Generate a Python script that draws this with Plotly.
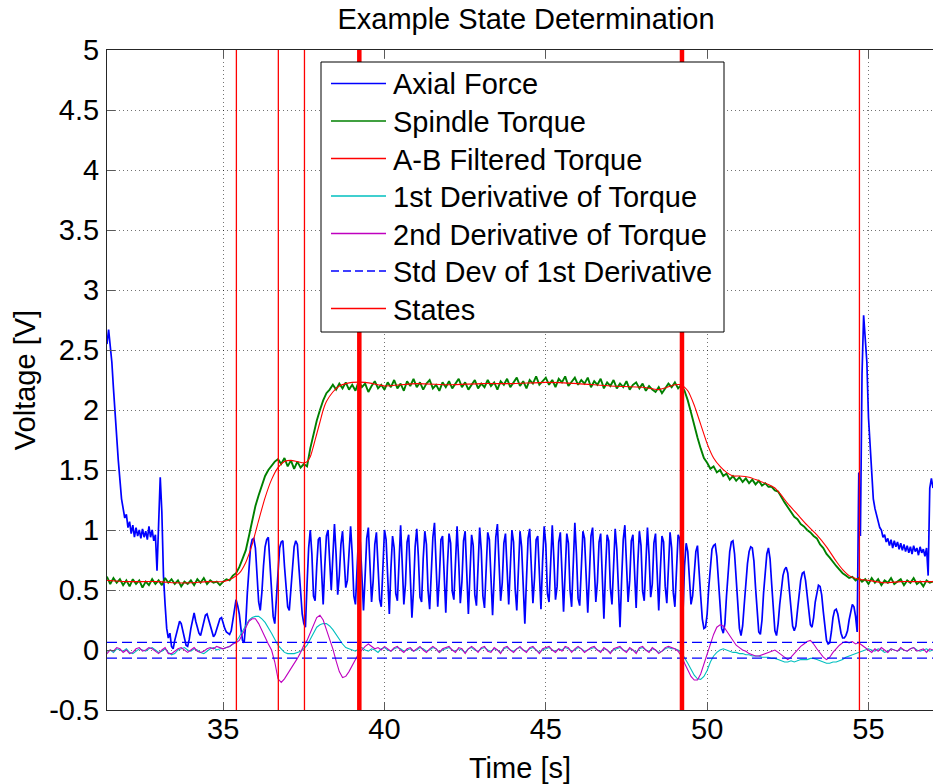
import numpy as np
import plotly.graph_objects as go

# ---------------- data ----------------
T0 = 31.0          # first sample time [s]
FORCE_DT = 0.05    # sample step of the axial-force record [s]
TORQUE_DT = 0.1    # sample step of torque / derivative records [s]

# Axial force [V], one row per second (31.00 ... 56.95), then 57.00
axial_force = [
    2.30, 2.40, 2.45, 2.50, 2.55, 2.50, 2.60, 2.58, 2.55, 2.67, 2.56, 2.40, 2.18, 1.95, 1.75, 1.58, 1.42, 1.26, 1.18, 1.10,
    1.13, 1.02, 1.07, 0.97, 1.04, 0.94, 1.02, 0.95, 1.00, 0.93, 1.01, 0.94, 0.99, 0.92, 1.03, 0.94, 1.00, 0.91, 0.96, 0.66,
    1.05, 1.44, 1.15, 0.62, 0.38, 0.18, 0.10, 0.14, 0.03, 0.01, 0.08, 0.14, 0.20, 0.24, 0.22, 0.16, 0.09, 0.04, 0.03, 0.09,
    0.18, 0.26, 0.31, 0.24, 0.18, 0.14, 0.12, 0.17, 0.23, 0.29, 0.30, 0.25, 0.20, 0.15, 0.11, 0.13, 0.18, 0.22, 0.26, 0.27,
    0.22, 0.18, 0.15, 0.14, 0.13, 0.16, 0.24, 0.34, 0.42, 0.37, 0.30, 0.18, 0.08, 0.06, 0.22, 0.48, 0.72, 0.86, 0.92, 0.93,
    0.85, 0.62, 0.40, 0.33, 0.48, 0.70, 0.86, 0.92, 0.94, 0.72, 0.45, 0.28, 0.22, 0.45, 0.70, 0.85, 0.90, 0.91, 0.70, 0.48,
    0.36, 0.33, 0.50, 0.72, 0.86, 0.91, 0.88, 0.68, 0.45, 0.30, 0.22, 0.19, 0.55, 0.85, 1.00, 0.80, 0.45, 0.41, 0.70, 0.92,
    0.94, 0.62, 0.38, 0.70, 0.95, 1.00, 0.70, 0.50, 0.78, 1.05, 0.80, 0.46, 0.62, 0.88, 0.99, 0.75, 0.52, 0.58, 0.82, 1.03,
    0.80, 0.45, 0.38, 0.72, 0.97, 0.90, 0.55, 0.33, 0.62, 0.93, 1.02, 0.66, 0.40, 0.58, 0.88, 0.98, 0.70, 0.42, 0.36, 0.75,
    1.00, 0.92, 0.52, 0.30, 0.68, 0.95, 0.85, 0.47, 0.41, 0.80, 1.04, 0.72, 0.38, 0.55, 0.90, 0.96, 0.60, 0.27, 0.50, 0.86,
    1.01, 0.78, 0.44, 0.40, 0.76, 0.99, 0.88, 0.50, 0.34, 0.66, 0.94, 1.06, 0.68, 0.36, 0.60, 0.92, 0.95, 0.58, 0.31, 0.70,
    0.97, 0.89, 0.49, 0.42, 0.81, 1.03, 0.74, 0.39, 0.57, 0.91, 0.99, 0.63, 0.30, 0.64, 0.96, 0.87, 0.46, 0.37, 0.78, 1.02,
    0.83, 0.45, 0.35, 0.71, 0.98, 0.92, 0.54, 0.29, 0.61, 0.94, 1.05, 0.70, 0.41, 0.56, 0.89, 0.97, 0.62, 0.38, 0.69, 1.00,
    0.90, 0.51, 0.33, 0.73, 0.99, 0.86, 0.48, 0.22, 0.58, 0.93, 1.01, 0.67, 0.39, 0.60, 0.92, 0.95, 0.57, 0.34, 0.74, 1.03,
    0.88, 0.47, 0.40, 0.79, 1.04, 0.76, 0.42, 0.53, 0.90, 0.98, 0.61, 0.32, 0.65, 0.97, 0.89, 0.50, 0.36, 0.77, 1.06, 0.80,
    0.43, 0.37, 0.74, 0.99, 0.93, 0.55, 0.31, 0.62, 0.95, 1.02, 0.69, 0.40, 0.57, 0.90, 0.97, 0.64, 0.26, 0.66, 0.96, 0.91,
    0.52, 0.38, 0.75, 1.01, 0.84, 0.46, 0.19, 0.59, 0.92, 1.04, 0.71, 0.40, 0.58, 0.91, 0.96, 0.60, 0.35, 0.72, 0.99, 0.87,
    0.49, 0.41, 0.78, 1.02, 0.79, 0.44, 0.55, 0.89, 0.97, 0.62, 0.33, 0.67, 0.95, 0.90, 0.53, 0.39, 0.76, 0.98, 0.85, 0.48,
    0.36, 0.72, 0.96, 0.93, 0.55, 0.30, 0.70, 0.89, 0.82, 0.55, 0.38, 0.45, 0.65, 0.82, 0.87, 0.70, 0.45, 0.26, 0.18, 0.19,
    0.30, 0.52, 0.72, 0.84, 0.87, 0.88, 0.78, 0.55, 0.32, 0.18, 0.14, 0.22, 0.45, 0.68, 0.82, 0.90, 0.91, 0.80, 0.58, 0.35,
    0.18, 0.12, 0.20, 0.38, 0.58, 0.72, 0.82, 0.86, 0.85, 0.74, 0.52, 0.30, 0.15, 0.13, 0.25, 0.48, 0.68, 0.80, 0.85, 0.76,
    0.55, 0.32, 0.16, 0.12, 0.22, 0.38, 0.52, 0.62, 0.67, 0.69, 0.64, 0.50, 0.32, 0.20, 0.16, 0.20, 0.33, 0.48, 0.58, 0.64,
    0.65, 0.58, 0.45, 0.30, 0.21, 0.19, 0.27, 0.40, 0.49, 0.54, 0.53, 0.46, 0.32, 0.17, 0.08, 0.05, 0.06, 0.15, 0.27, 0.33,
    0.34, 0.30, 0.22, 0.14, 0.10, 0.10, 0.12, 0.16, 0.25, 0.33, 0.38, 0.36, 0.28, 0.15, 1.48, 0.95, 2.30, 2.79, 2.60, 2.40,
    1.94, 1.74, 1.52, 1.26, 1.18, 1.12, 1.08, 1.02, 1.00, 0.94, 0.96, 0.90, 0.93, 0.87, 0.92, 0.85, 0.91, 0.86, 0.90, 0.84,
    0.89, 0.83, 0.88, 0.82, 0.87, 0.81, 0.86, 0.80, 0.87, 0.82, 0.85, 0.79, 0.86, 0.81, 0.84, 0.78, 0.85, 0.62, 1.35, 1.43,
    1.35,
]

# Spindle torque [V], one row per second (31.0 ... 56.9), then 57.0
spindle_torque = [
    0.60, 0.56, 0.62, 0.57, 0.61, 0.55, 0.60, 0.56, 0.59, 0.54,
    0.58, 0.53, 0.59, 0.55, 0.58, 0.52, 0.57, 0.54, 0.59, 0.55,
    0.58, 0.54, 0.60, 0.56, 0.59, 0.55, 0.58, 0.53, 0.57, 0.55,
    0.58, 0.54, 0.59, 0.56, 0.60, 0.55, 0.58, 0.56, 0.57, 0.54,
    0.57, 0.59, 0.58, 0.62, 0.64, 0.69, 0.76, 0.83, 0.95, 1.08,
    1.20, 1.29, 1.38, 1.45, 1.50, 1.54, 1.57, 1.59, 1.55, 1.60,
    1.53, 1.58, 1.51, 1.57, 1.52, 1.55, 1.53, 1.68, 1.80, 1.91,
    2.00, 2.08, 2.14, 2.17, 2.21, 2.17, 2.22, 2.18, 2.23, 2.17,
    2.21, 2.16, 2.24, 2.19, 2.22, 2.15, 2.20, 2.24, 2.18, 2.21,
    2.17, 2.23, 2.19, 2.25, 2.18, 2.22, 2.16, 2.24, 2.20, 2.26,
    2.19, 2.23, 2.17, 2.22, 2.25, 2.18, 2.21, 2.16, 2.23, 2.19,
    2.24, 2.18, 2.22, 2.26, 2.19, 2.23, 2.17, 2.21, 2.25, 2.18,
    2.22, 2.19, 2.25, 2.20, 2.23, 2.17, 2.24, 2.21, 2.26, 2.19,
    2.23, 2.27, 2.20, 2.24, 2.18, 2.25, 2.22, 2.28, 2.21, 2.24,
    2.27, 2.21, 2.25, 2.19, 2.26, 2.23, 2.28, 2.20, 2.24, 2.27,
    2.21, 2.25, 2.22, 2.27, 2.19, 2.24, 2.21, 2.26, 2.18, 2.23,
    2.20, 2.25, 2.18, 2.22, 2.19, 2.24, 2.17, 2.21, 2.23, 2.18,
    2.22, 2.16, 2.20, 2.17, 2.15, 2.19, 2.14, 2.18, 2.22, 2.19,
    2.23, 2.18, 2.21, 2.16, 2.08, 1.98, 1.87, 1.77, 1.68, 1.60,
    1.56, 1.51, 1.53, 1.48, 1.50, 1.45, 1.47, 1.42, 1.45, 1.41,
    1.44, 1.40, 1.43, 1.39, 1.42, 1.38, 1.41, 1.37, 1.39, 1.36,
    1.36, 1.33, 1.32, 1.27, 1.23, 1.19, 1.15, 1.11, 1.09, 1.05,
    1.03, 1.00, 0.98, 0.95, 0.93, 0.88, 0.85, 0.80, 0.77, 0.73,
    0.70, 0.67, 0.64, 0.62, 0.60, 0.61, 0.58, 0.60, 0.57, 0.59,
    0.55, 0.60, 0.56, 0.59, 0.54, 0.58, 0.56, 0.60, 0.55, 0.57,
    0.59, 0.54, 0.58, 0.56, 0.60, 0.55, 0.57, 0.53, 0.58, 0.56,
    0.57,
]

# A-B filtered torque [V] (smooth), key samples
filtered_time = [31.0, 31.4, 32.0, 33.0, 33.5, 34.0, 34.5, 35.0, 35.3, 35.5, 35.7, 35.9, 36.1, 36.3,
                 36.5, 36.7, 36.9, 37.1, 37.3, 37.5, 37.6, 37.7, 37.8, 37.9, 38.0, 38.1, 38.2, 38.4,
                 38.6, 38.8, 39.0, 39.4, 39.8, 40.0, 41.0, 42.0, 43.0, 44.0, 45.0, 46.0, 47.0, 48.0,
                 48.5, 49.0, 49.2, 49.4, 49.6, 49.8, 50.0, 50.2, 50.4, 50.6, 50.8, 51.0, 51.3, 51.6,
                 51.9, 52.1, 52.3, 52.5, 52.8, 53.1, 53.4, 53.7, 54.0, 54.2, 54.4, 54.7, 55.0, 55.5,
                 56.0, 56.5, 57.0]
filtered_torque = [0.58, 0.58, 0.57, 0.57, 0.56, 0.56, 0.57, 0.57, 0.60, 0.64, 0.73, 0.88, 1.08, 1.27,
                   1.42, 1.52, 1.57, 1.58, 1.57, 1.56, 1.57, 1.61, 1.70, 1.80, 1.90, 2.00, 2.07, 2.15,
                   2.20, 2.22, 2.23, 2.23, 2.21, 2.20, 2.22, 2.21, 2.22, 2.22, 2.23, 2.22, 2.20, 2.19,
                   2.17, 2.21, 2.21, 2.16, 2.04, 1.88, 1.72, 1.60, 1.53, 1.48, 1.45, 1.45, 1.44, 1.41,
                   1.38, 1.35, 1.29, 1.22, 1.13, 1.04, 0.96, 0.86, 0.74, 0.67, 0.62, 0.59, 0.58, 0.56,
                   0.57, 0.57, 0.57]

# 1st derivative of torque, one row per second (31.0 ... 56.9), then 57.0
first_derivative = [
    0.00, -0.01, 0.01, -0.02, -0.01, 0.00, -0.02, 0.01, 0.00, -0.01,
    0.01, -0.02, -0.03, -0.01, 0.01, 0.00, -0.01, 0.01, 0.02, 0.00,
    -0.02, -0.01, 0.01, -0.02, -0.04, -0.03, 0.00, 0.01, 0.02, 0.00,
    -0.01, 0.01, 0.00, -0.02, -0.03, -0.01, 0.01, 0.02, 0.00, 0.01,
    0.01, 0.02, 0.03, 0.05, 0.07, 0.11, 0.16, 0.21, 0.25, 0.27,
    0.28, 0.28, 0.26, 0.23, 0.19, 0.14, 0.09, 0.04, 0.01, -0.02,
    -0.03, -0.03, -0.03, -0.02, -0.01, 0.01, 0.04, 0.09, 0.14, 0.19,
    0.21, 0.22, 0.22, 0.20, 0.17, 0.13, 0.08, 0.05, 0.02, 0.01,
    0.00, -0.01, 0.01, 0.02, 0.00, -0.01, 0.01, 0.00, -0.02, 0.01,
    0.02, 0.00, -0.01, 0.01, 0.02, 0.01, -0.01, 0.00, 0.01, -0.01,
    0.00, 0.02, 0.01, -0.01, 0.00, 0.02, 0.01, -0.02, 0.00, 0.01,
    0.02, 0.00, -0.01, 0.01, 0.00, -0.02, 0.01, 0.02, 0.00, -0.01,
    0.01, 0.02, 0.00, -0.01, 0.01, 0.00, -0.02, 0.01, 0.02, 0.00,
    -0.01, 0.01, 0.02, 0.00, -0.01, 0.01, 0.02, 0.00, -0.02, 0.00,
    0.01, 0.02, 0.00, -0.01, 0.01, 0.00, 0.02, 0.01, -0.01, 0.00,
    0.02, 0.01, -0.01, 0.00, 0.01, 0.02, 0.00, -0.01, 0.01, 0.00,
    -0.02, 0.00, 0.01, 0.02, 0.00, -0.01, 0.01, 0.00, -0.02, 0.01,
    0.02, 0.00, -0.01, 0.01, 0.00, -0.02, -0.01, 0.01, 0.02, 0.01,
    0.01, 0.00, -0.02, -0.06, -0.11, -0.16, -0.21, -0.24, -0.245, -0.22,
    -0.17, -0.10, -0.05, -0.02, 0.00, 0.01, 0.00, -0.01, -0.02, -0.02,
    -0.03, -0.03, -0.04, -0.04, -0.05, -0.05, -0.05, -0.06, -0.06, -0.06,
    -0.07, -0.07, -0.08, -0.09, -0.10, -0.10, -0.09, -0.10, -0.09, -0.08,
    -0.08, -0.08, -0.07, -0.07, -0.08, -0.09, -0.10, -0.11, -0.11, -0.10,
    -0.10, -0.09, -0.08, -0.06, -0.05, -0.04, -0.03, -0.02, -0.01, 0.00,
    0.01, 0.00, -0.01, 0.01, 0.00, -0.02, -0.01, 0.01, 0.00, -0.01,
    0.01, 0.00, -0.01, 0.01, 0.02, 0.00, -0.01, 0.00, 0.01, -0.01,
    0.00,
]

# 2nd derivative of torque, one row per second (31.0 ... 56.9), then 57.0
second_derivative = [
    0.01, -0.01, 0.02, -0.02, -0.03, 0.00, -0.01, 0.02, 0.01, -0.02,
    0.00, -0.03, -0.02, 0.01, 0.02, -0.01, 0.00, 0.02, 0.01, -0.01,
    -0.03, 0.00, 0.02, -0.03, -0.03, -0.01, 0.01, 0.02, 0.00, -0.02,
    0.00, 0.02, -0.01, -0.02, -0.01, 0.01, 0.02, 0.01, 0.03, 0.02,
    0.01, 0.02, 0.03, 0.05, 0.06, 0.08, 0.13, 0.19, 0.24, 0.26,
    0.26, 0.22, 0.16, 0.10, 0.05, 0.00, -0.10, -0.24, -0.27, -0.24,
    -0.20, -0.16, -0.12, -0.07, -0.02, 0.04, 0.08, 0.14, 0.21, 0.27,
    0.29, 0.25, 0.17, 0.09, 0.01, -0.09, -0.18, -0.23, -0.22, -0.18,
    -0.13, -0.08, -0.03, 0.00, 0.03, 0.05, 0.03, 0.01, 0.02, 0.00,
    0.03, 0.01, -0.01, 0.02, 0.03, 0.00, -0.02, 0.01, 0.02, -0.01,
    0.01, 0.03, 0.00, -0.02, 0.01, 0.03, 0.01, -0.02, 0.01, 0.02,
    0.03, 0.00, -0.02, 0.02, 0.01, -0.03, 0.01, 0.03, 0.01, -0.02,
    0.02, 0.03, -0.01, -0.02, 0.02, 0.00, -0.03, 0.02, 0.03, 0.00,
    -0.02, 0.01, 0.03, 0.00, -0.02, 0.02, 0.03, 0.00, -0.03, 0.01,
    0.02, 0.03, 0.00, -0.02, 0.01, -0.01, 0.03, 0.02, -0.02, 0.01,
    0.03, 0.01, -0.02, 0.00, 0.02, 0.03, 0.00, -0.02, 0.02, 0.00,
    -0.03, 0.01, 0.02, 0.03, 0.00, -0.02, 0.02, 0.00, -0.03, 0.02,
    0.03, 0.00, -0.02, 0.02, 0.00, -0.03, -0.01, 0.02, 0.03, 0.02,
    0.01, -0.01, -0.05, -0.11, -0.17, -0.22, -0.25, -0.25, -0.20, -0.12,
    -0.04, 0.05, 0.13, 0.19, 0.21, 0.20, 0.16, 0.11, 0.07, 0.04,
    0.02, 0.00, -0.01, -0.03, -0.04, -0.05, -0.05, -0.04, -0.03, -0.02,
    -0.01, 0.00, -0.02, -0.04, -0.06, -0.08, -0.06, -0.03, 0.00, 0.03,
    0.05, 0.07, 0.08, 0.05, 0.01, -0.03, -0.06, -0.08, -0.06, -0.02,
    0.01, 0.04, 0.06, 0.07, 0.06, 0.07, 0.05, 0.06, 0.04, 0.02,
    0.00, -0.02, 0.01, -0.01, 0.02, 0.00, -0.02, 0.01, 0.00, -0.01,
    0.02, 0.00, -0.01, 0.01, 0.02, -0.01, 0.00, 0.01, -0.02, 0.01,
    0.00,
]

# Std-dev band of the 1st derivative [V]
std_dev_band = [0.063, -0.068]

# State transition times [s]
state_times_minor = [35.41, 36.71, 37.52, 54.72]
state_times_major = [39.22, 49.22]

x_range = [31.4, 57.0]
y_range = [-0.5, 5.0]
x_ticks = [35, 40, 45, 50, 55]
y_ticks = [-0.5, 0, 0.5, 1, 1.5, 2, 2.5, 3, 3.5, 4, 4.5, 5]
y_tick_labels = ["-0.5", "0", "0.5", "1", "1.5", "2", "2.5", "3", "3.5", "4", "4.5", "5"]

series_names = ["Axial Force", "Spindle Torque", "A-B Filtered Torque", "1st Derivative of Torque",
                "2nd Derivative of Torque", "Std Dev of 1st Derivative", "States"]
series_colors = ["rgb(0,0,255)", "rgb(0,128,0)", "rgb(255,0,0)", "rgb(0,191,191)",
                 "rgb(191,0,191)", "rgb(0,0,255)", "rgb(255,0,0)"]
series_dash = ["solid", "solid", "solid", "solid", "solid", "8px,4px", "solid"]

# ---------------- figure ----------------
t_force = np.round(T0 + FORCE_DT * np.arange(len(axial_force)), 3)
t_torque = np.round(T0 + TORQUE_DT * np.arange(len(spindle_torque)), 3)
t_d1 = np.round(T0 + TORQUE_DT * np.arange(len(first_derivative)), 3)
t_d2 = np.round(T0 + TORQUE_DT * np.arange(len(second_derivative)), 3)

FONT = "Liberation Sans, Arial, Helvetica, sans-serif"
W, H = 933, 784
ML, MR, MT, MB = 107, 0, 50, 74
PW, PH = W - ML - MR, H - MT - MB


def px_x(px):
    return (px - ML) / PW


def px_y(py):
    return (H - MB - py) / PH


fig = go.Figure()
fig.add_trace(go.Scatter(x=t_force, y=axial_force, mode="lines", name=series_names[0],
                         line=dict(color=series_colors[0], width=1.7)))
fig.add_trace(go.Scatter(x=t_torque, y=spindle_torque, mode="lines", name=series_names[1],
                         line=dict(color=series_colors[1], width=1.9)))
fig.add_trace(go.Scatter(x=filtered_time, y=filtered_torque, mode="lines", name=series_names[2],
                         line=dict(color=series_colors[2], width=1.1, shape="spline", smoothing=0.6)))
fig.add_trace(go.Scatter(x=t_d1, y=first_derivative, mode="lines", name=series_names[3],
                         line=dict(color=series_colors[3], width=1.1)))
fig.add_trace(go.Scatter(x=t_d2, y=second_derivative, mode="lines", name=series_names[4],
                         line=dict(color=series_colors[4], width=1.1)))

sx, sy = [], []
for v in std_dev_band:
    sx += [x_range[0], x_range[1], None]
    sy += [v, v, None]
fig.add_trace(go.Scatter(x=sx, y=sy, mode="lines", name=series_names[5],
                         line=dict(color=series_colors[5], width=1.3, dash="10px,5px")))

vx, vy = [], []
for t in state_times_minor:
    vx += [t, t, None]
    vy += [y_range[0], y_range[1], None]
fig.add_trace(go.Scatter(x=vx, y=vy, mode="lines", name=series_names[6],
                         line=dict(color=series_colors[6], width=1.3)))
wx, wy = [], []
for t in state_times_major:
    wx += [t, t, None]
    wy += [y_range[0], y_range[1], None]
fig.add_trace(go.Scatter(x=wx, y=wy, mode="lines", name=series_names[6],
                         line=dict(color=series_colors[6], width=4.5)))

# MATLAB-style legend box (drawn in paper coordinates)
LEG_L, LEG_R, LEG_T, LEG_B = 321, 724, 62, 332
ROW0, ROW_DY = 83.5, 37.5
shapes = [dict(type="rect", xref="paper", yref="paper", x0=px_x(LEG_L), x1=px_x(LEG_R),
               y0=px_y(LEG_B), y1=px_y(LEG_T), line=dict(color="black", width=1),
               fillcolor="white", layer="above")]
annotations = []
for i, (name, col, dash) in enumerate(zip(series_names, series_colors, series_dash)):
    yc = ROW0 + i * ROW_DY
    shapes.append(dict(type="line", xref="paper", yref="paper", x0=px_x(331), x1=px_x(386),
                       y0=px_y(yc), y1=px_y(yc), layer="above",
                       line=dict(color=col, width=1.3, dash=dash)))
    annotations.append(dict(text=name, xref="paper", yref="paper", x=px_x(391), y=px_y(yc + 1),
                            xanchor="left", yanchor="middle", showarrow=False,
                            font=dict(family=FONT, size=29, color="black")))

axis_common = dict(
    showline=True, linecolor="rgb(38,38,38)", linewidth=1,
    ticks="inside", ticklen=8, tickwidth=1, tickcolor="rgb(90,90,90)",
    showgrid=True, gridcolor="rgba(0,0,0,0.55)", gridwidth=1, griddash="1px,3px",
    zeroline=False, tickfont=dict(family=FONT, size=29, color="black"),
)

fig.update_layout(
    width=W, height=H,
    margin=dict(l=ML, r=MR, t=MT, b=MB, pad=0),
    paper_bgcolor="white", plot_bgcolor="white",
    font=dict(family=FONT, size=29, color="black"),
    title=dict(text="Example State Determination", xref="container", x=526 / W, xanchor="center",
               yref="container", y=1 - 19 / H, yanchor="middle",
               font=dict(family=FONT, size=29, color="black")),
    showlegend=False,
    shapes=shapes,
    annotations=annotations,
    xaxis=dict(range=x_range, tickvals=x_ticks, mirror="ticks",
               title=dict(text="Time [s]", font=dict(family=FONT, size=29), standoff=18),
               ticklabelstandoff=-7, **axis_common),
    yaxis=dict(range=y_range, tickvals=y_ticks, ticktext=y_tick_labels, mirror=False,
               title=dict(text="Voltage [V]", font=dict(family=FONT, size=29), standoff=5),
               ticklabelstandoff=1, **axis_common),
)

fig.write_html("out.html")
